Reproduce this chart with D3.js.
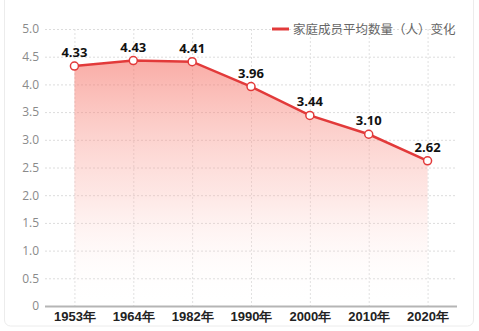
<!DOCTYPE html>
<html>
<head>
<meta charset="utf-8">
<script src="https://cdn.jsdelivr.net/npm/d3@7/dist/d3.min.js"></script>
<style>
  html, body { margin: 0; padding: 0; background: #fff; }
  svg { display: block; font-family: "Noto Sans CJK SC", "Noto Sans", sans-serif; }
</style>
</head>
<body>
<svg id="chart" width="479" height="331"></svg>
<script>
// Average household size by census year
const years = ["1953年", "1964年", "1982年", "1990年", "2000年", "2010年", "2020年"];
const householdSize = [4.33, 4.43, 4.41, 3.96, 3.44, 3.10, 2.62];
const yTicks = [0, 0.5, 1.0, 1.5, 2.0, 2.5, 3.0, 3.5, 4.0, 4.5, 5.0];
const seriesName = "家庭成员平均数量（人）变化";

const W = 479, H = 331;
const margin = { top: 29, right: 22, bottom: 25, left: 45 };
const svg = d3.select("#chart");

// card outline
svg.append("rect")
  .attr("x", 4.5).attr("y", -10).attr("width", 469).attr("height", H + 5)
  .attr("rx", 6).attr("fill", "none").attr("stroke", "#ececec");

const x = d3.scalePoint().domain(years)
  .range([margin.left, W - margin.right]).padding(0.5);
const y = d3.scaleLinear().domain([0, 5]).range([H - margin.bottom, margin.top]);

const red = "#e23a3a";

// gradient fill under the line
const defs = svg.append("defs");
const grad = defs.append("linearGradient").attr("id", "areaFill")
  .attr("x1", 0).attr("y1", 0).attr("x2", 0).attr("y2", 1);
grad.append("stop").attr("offset", "0%").attr("stop-color", "#f56a5e").attr("stop-opacity", 0.55);
grad.append("stop").attr("offset", "55%").attr("stop-color", "#fbb0a8").attr("stop-opacity", 0.3);
grad.append("stop").attr("offset", "100%").attr("stop-color", "#fff").attr("stop-opacity", 0);

// horizontal grid
svg.append("g").selectAll("line").data(yTicks.filter(d => d > 0)).join("line")
  .attr("x1", margin.left).attr("x2", W - margin.right)
  .attr("y1", d => y(d) + 0.5).attr("y2", d => y(d) + 0.5)
  .attr("stroke", "#dcdcdc").attr("stroke-dasharray", "2,2");

// vertical grid at categories
svg.append("g").selectAll("line").data(years).join("line")
  .attr("x1", d => x(d) + 0.5).attr("x2", d => x(d) + 0.5)
  .attr("y1", margin.top).attr("y2", H - margin.bottom)
  .attr("stroke", "#e0e0e0").attr("stroke-dasharray", "2,2");

// area
svg.append("path")
  .datum(householdSize)
  .attr("fill", "url(#areaFill)")
  .attr("d", d3.area().x((d, i) => x(years[i])).y0(y(0)).y1(d => y(d)));

// y axis labels
const yAxis = svg.append("g")
  .attr("transform", `translate(${margin.left},0)`)
  .call(d3.axisLeft(y).tickValues(yTicks).tickSize(0).tickPadding(6)
    .tickFormat(d => d === 0 ? "0" : d3.format(".1f")(d)));
yAxis.select(".domain").remove();
yAxis.selectAll("text").attr("fill", "#8a8a8a").style("font-size", "12px")
  .style("font-family", "'Open Sans', 'Noto Sans', sans-serif");

// x axis
const xAxis = svg.append("g")
  .attr("transform", `translate(0,${y(0)})`)
  .call(d3.axisBottom(x).tickSize(0).tickPadding(6));
xAxis.select(".domain")
  .attr("d", `M${margin.left},0.5H${W - margin.right}`)
  .attr("stroke", "#b5b5b5").attr("stroke-width", 2);
xAxis.selectAll("text").attr("fill", "#222").style("font-size", "13px")
  .style("font-weight", "bold");

// line
svg.append("path")
  .datum(householdSize)
  .attr("fill", "none").attr("stroke", red).attr("stroke-width", 2.5)
  .attr("d", d3.line().x((d, i) => x(years[i])).y(d => y(d)));

// points
svg.append("g").selectAll("circle").data(householdSize).join("circle")
  .attr("cx", (d, i) => x(years[i])).attr("cy", d => y(d)).attr("r", 4)
  .attr("fill", "#fff").attr("stroke", red).attr("stroke-width", 1.5);

// value labels
svg.append("g").selectAll("text").data(householdSize).join("text")
  .attr("x", (d, i) => x(years[i])).attr("y", d => y(d) - 9)
  .attr("text-anchor", "middle")
  .style("font-size", "13px").style("font-weight", "bold")
  .style("font-family", "'Open Sans', 'Noto Sans', sans-serif")
  .attr("fill", "#111")
  .text(d => d3.format(".2f")(d));

// legend
const lg = svg.append("g").attr("transform", "translate(272,29)");
lg.append("line").attr("x1", 0).attr("x2", 17).attr("y1", 0).attr("y2", 0)
  .attr("stroke", red).attr("stroke-width", 3);
lg.append("text").attr("x", 21).attr("y", 4.5)
  .attr("fill", "#666").style("font-size", "12.5px")
  .text(seriesName);
</script>
</body>
</html>
